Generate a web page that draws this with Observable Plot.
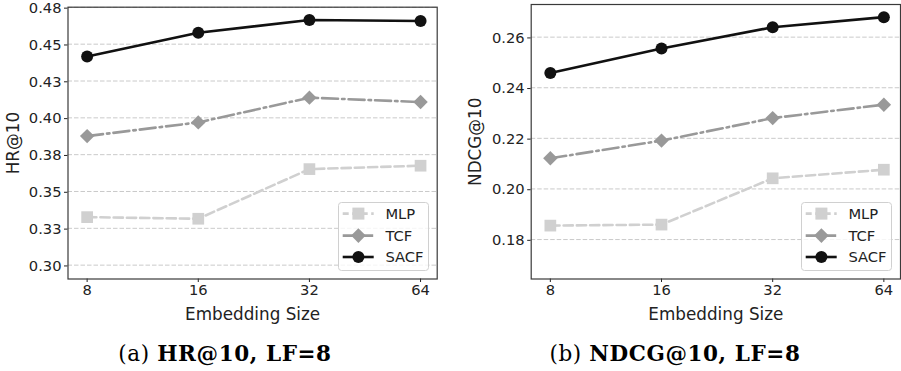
<!DOCTYPE html>
<html>
<head>
<meta charset="utf-8">
<script src="https://cdn.jsdelivr.net/npm/d3@7"></script>
<script src="https://cdn.jsdelivr.net/npm/@observablehq/plot@0.6"></script>
<style>
  html, body { margin: 0; padding: 0; background: #fff; }
  #wrap { position: relative; width: 901px; height: 371px; overflow: hidden; font-family: "DejaVu Sans", sans-serif; }
  .panel { position: absolute; top: 0; }
  .caption { position: absolute; top: 342.5px; width: 450px; text-align: center; font-family: "DejaVu Serif", serif; font-size: 21.5px; line-height: 21.5px; letter-spacing: 0.6px; color: #000; }
  .legend { position: absolute; }
</style>
</head>
<body>
<div id="wrap"></div>
<script>
// ---- data ----
const sizes = [8, 16, 32, 64];
const xTicks = [8, 16, 32, 64];
const methods = ["MLP", "TCF", "SACF"];

const hrMLP  = [0.3326, 0.3315, 0.3652, 0.3675];
const hrTCF  = [0.3876, 0.3969, 0.4137, 0.4107];
const hrSACF = [0.4417, 0.4578, 0.4664, 0.4657];

const ndcgMLP  = [0.1855, 0.1859, 0.2042, 0.2076];
const ndcgTCF  = [0.2121, 0.2191, 0.2280, 0.2333];
const ndcgSACF = [0.2458, 0.2555, 0.2639, 0.2679];

const hrTicks = [0.300, 0.325, 0.350, 0.375, 0.400, 0.425, 0.450, 0.475];
const hrTickLabels = ["0.30", "0.33", "0.35", "0.38", "0.40", "0.43", "0.45", "0.48"];
const ndcgTicks = [0.18, 0.20, 0.22, 0.24, 0.26];
const ndcgTickLabels = ["0.18", "0.20", "0.22", "0.24", "0.26"];

const captionA = ["(a) ", "HR@10, LF=8"];
const captionB = ["(b) ", "NDCG@10, LF=8"];

// ---- styles ----
const colors = {MLP: "#d0d0d0", TCF: "#999999", SACF: "#111111"};
const symbols = {MLP: "square", TCF: "diamond2", SACF: "circle"};
const radii = {MLP: 6.6, TCF: 6.5, SACF: 6};
const dashes = {MLP: "9.25,4", TCF: "16,4,2.5,4", SACF: null};

const H = 320, MB = 41.5;
const TICK_FS = 14.7, LABEL_FS = 16.8;

function makeChart(o) {
  const rows = methods.flatMap((m, j) => sizes.map((s, i) => ({method: m, size: s, value: o.series[j][i]})));
  const marks = [
    Plot.gridY(o.yTicks, {stroke: "#c4c4c4", strokeOpacity: 1, strokeWidth: 0.9, strokeDasharray: "4.5,2"}),
    Plot.axisY({ticks: o.yTicks, tickFormat: d => o.yLabels[o.yTicks.indexOf(d)], tickSize: 3.5, tickPadding: 3, fontSize: TICK_FS, label: null, color: "#222", dy: 0.8}),
    Plot.axisY({ticks: [], label: o.yLabel, labelAnchor: "center", labelArrow: "none", labelOffset: o.labelOffset, fontSize: LABEL_FS, color: "#222"}),
    Plot.axisX({ticks: xTicks, tickFormat: d => String(d), tickSize: 3.5, tickPadding: 2, fontSize: TICK_FS, label: null, color: "#222"}),
    Plot.axisX({ticks: [], label: "Embedding Size", labelAnchor: "center", labelArrow: "none", labelOffset: 40.5, fontSize: LABEL_FS, color: "#222"})
  ];
  for (const m of methods) {
    const d = rows.filter(r => r.method === m);
    marks.push(Plot.line(d, {x: "size", y: "value", stroke: colors[m], strokeWidth: 2.6, strokeDasharray: dashes[m]}));
    marks.push(Plot.dot(d, {x: "size", y: "value", fill: colors[m], symbol: symbols[m], r: radii[m], stroke: "none"}));
  }
  marks.push(Plot.frame({stroke: "#3a3a3a", strokeWidth: 1.2}));
  return Plot.plot({
    width: o.width, height: H,
    marginLeft: o.marginLeft, marginRight: o.marginRight, marginTop: o.marginTop, marginBottom: MB,
    style: {fontFamily: "DejaVu Sans, sans-serif", background: "#fff", overflow: "visible"},
    x: {type: "log", base: 2, domain: [7.1, 71.0]},
    y: {domain: o.yDomain},
    marks
  });
}

function legendSVG() {
  const w = 91, h = 69;
  const ns = "http://www.w3.org/2000/svg";
  const svg = document.createElementNS(ns, "svg");
  svg.setAttribute("width", w); svg.setAttribute("height", h);
  svg.innerHTML = `<rect x="0.5" y="0.5" width="${w - 1}" height="${h - 1}" rx="3" fill="#fff" fill-opacity="0.8" stroke="#d0d0d0" stroke-width="1"/>`;
  const rowsY = [11.6, 33.6, 55];
  methods.forEach((m, i) => {
    const y = rowsY[i];
    const c = colors[m];
    let g = `<line x1="4.7" x2="35.7" y1="${y}" y2="${y}" stroke="${c}" stroke-width="2.6" ${dashes[m] ? `stroke-dasharray="${m === "MLP" ? "6,3.5" : "11,3,2.5,3"}"` : ""}/>`;
    const cx = 20.4;
    if (m === "MLP") g += `<rect x="${cx - 6}" y="${y - 6}" width="12" height="12" fill="${c}"/>`;
    else if (m === "TCF") g += `<path d="M${cx},${y - 7.3}L${cx + 7.3},${y}L${cx},${y + 7.3}L${cx - 7.3},${y}Z" fill="${c}"/>`;
    else g += `<circle cx="${cx}" cy="${y}" r="6" fill="${c}"/>`;
    g += `<text x="47.4" y="${y}" dy="0.36em" font-family="DejaVu Sans" font-size="${TICK_FS}" fill="#222">${m}</text>`;
    svg.innerHTML += g;
  });
  return svg;
}

const wrap = document.getElementById("wrap");

const panels = [
  {left: 0, width: 450, marginLeft: 67.5, marginRight: 13.3, marginTop: 6.7, yDomain: [0.2906, 0.4751], yTicks: hrTicks, yLabels: hrTickLabels, yLabel: "HR@10", series: [hrMLP, hrTCF, hrSACF], labelOffset: 61, caption: captionA},
  {left: 450, width: 451, marginLeft: 80.7, marginRight: 1, marginTop: 4, yDomain: [0.1644, 0.2729], yTicks: ndcgTicks, yLabels: ndcgTickLabels, yLabel: "NDCG@10", series: [ndcgMLP, ndcgTCF, ndcgSACF], labelOffset: 62.3, caption: captionB}
];

for (const p of panels) {
  const div = document.createElement("div");
  div.className = "panel";
  div.style.left = p.left + "px";
  div.appendChild(makeChart(p));
  wrap.appendChild(div);

  const lg = document.createElement("div");
  lg.className = "legend";
  lg.style.left = (p.left + p.width - p.marginRight - 7.6 - 91) + "px";
  lg.style.top = (H - MB - 7.8 - 69) + "px";
  lg.appendChild(legendSVG());
  wrap.appendChild(lg);

  const cap = document.createElement("div");
  cap.className = "caption";
  cap.style.left = p.left + "px";
  cap.innerHTML = `<span>${p.caption[0]}</span><b>${p.caption[1]}</b>`;
  wrap.appendChild(cap);
}
</script>
</body>
</html>
